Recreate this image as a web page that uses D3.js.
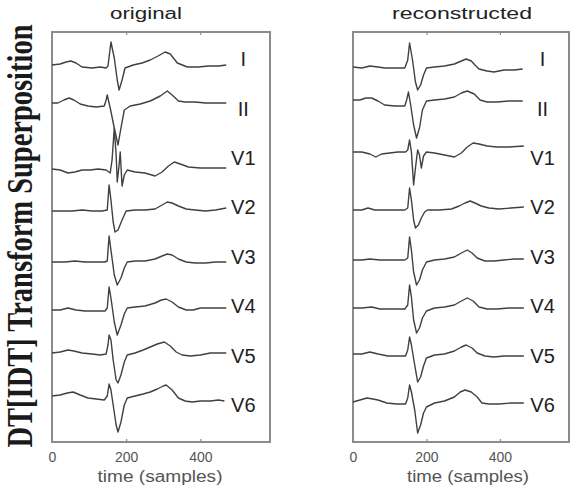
<!DOCTYPE html>
<html>
<head>
<meta charset="utf-8">
<script src="https://d3js.org/d3.v7.min.js"></script>
<style>
  body { margin: 0; background: #fff; }
  .sans { font-family: "Liberation Sans", Arial, sans-serif; }
  .serif { font-family: "Liberation Serif", "Times New Roman", serif; }
</style>
</head>
<body>
<div id="chart"></div>
<script>
// leads, top to bottom
const leads = ["I", "II", "V1", "V2", "V3", "V4", "V5", "V6"];
const xTicks = [0, 200, 400];

// baseline offset of every lead (mV from the top of the axes)
const origOffsets  = [0.85, 1.825, 3.45, 4.475, 5.75, 6.95, 8.025, 9.1];
const reconOffsets = [0.9, 1.775, 3.025, 4.45, 5.7, 6.9, 8.075, 9.25];

// [sample, mV] - original
const origI = [[0,0.025],[22,0.05],[38,0.1],[51,0.125],[65,0.075],[81,-0.025],[108,-0.05],[130,-0.025],[146,-0.05],[151,0],[159,0.6],[168,0.2],[176,-0.35],[181,-0.6],[189,-0.35],[197,-0.05],[219,0.025],[243,0.075],[265,0.15],[286,0.25],[305,0.35],[319,0.3],[338,0.075],[365,-0.025],[395,-0.025],[422,0],[449,0],[470,0.025]];
const origII = [[0,0.05],[16,0.05],[32,0.125],[46,0.175],[59,0.125],[76,0.025],[97,-0.025],[119,-0.05],[141,-0.025],[146,0.125],[149,0.25],[157,-0.075],[168,-0.575],[178,-1.0],[186,-0.575],[195,-0.125],[211,-0.025],[238,0.025],[265,0.1],[292,0.225],[311,0.35],[324,0.25],[341,0.1],[359,0.075],[386,0.075],[414,0.05],[441,0.05],[470,0.05]];
const origV1 = [[0,0.025],[22,0],[43,-0.075],[62,-0.05],[81,0],[103,0],[124,0.025],[146,0],[157,-0.075],[162,0.25],[168,1.05],[173,0.375],[176,-0.3],[181,0.125],[184,0.45],[189,-0.4],[195,-0.125],[203,0],[224,-0.05],[251,-0.075],[278,-0.15],[297,-0.05],[314,0.1],[330,0.2],[346,0.15],[368,0.075],[400,0.05],[432,0.05],[470,0.05]];
const origV2 = [[0,0],[27,0],[54,0],[81,0.025],[108,0],[135,0],[149,0.025],[154,0.65],[159,0.275],[165,-0.275],[170,-0.525],[178,-0.475],[189,-0.225],[200,0],[224,0.025],[251,0.025],[278,0.05],[297,0.15],[311,0.225],[324,0.2],[341,0.125],[362,0.05],[386,0.025],[414,0],[441,0.025],[470,0.075]];
const origV3 = [[0,0],[35,0],[62,0.025],[89,0],[116,0],[143,0],[149,0.025],[154,0.65],[159,0.3],[168,-0.325],[176,-0.575],[186,-0.4],[195,-0.15],[203,0],[224,0.025],[251,0.025],[278,0.075],[297,0.15],[311,0.2],[324,0.175],[341,0.075],[362,0],[386,-0.025],[414,-0.025],[441,0],[470,0]];
const origV4 = [[0,0],[22,0],[43,0.05],[65,0],[89,-0.025],[116,-0.025],[143,-0.025],[149,0.05],[154,0.575],[159,0.3],[168,-0.3],[176,-0.625],[186,-0.375],[195,-0.1],[203,0.05],[224,0.075],[251,0.1],[278,0.175],[295,0.25],[308,0.275],[324,0.2],[341,0.075],[362,0],[381,0],[400,0.05],[432,0.05],[470,0.05]];
const origV5 = [[0,0],[22,0.025],[43,0.075],[59,0.05],[81,0],[108,-0.025],[130,-0.05],[146,-0.025],[151,0.2],[154,0.45],[159,0.325],[165,-0.175],[173,-0.675],[178,-0.75],[186,-0.55],[195,-0.225],[203,-0.05],[224,0],[246,0.075],[265,0.15],[284,0.225],[303,0.275],[319,0.175],[335,0.025],[351,-0.05],[373,-0.075],[400,-0.05],[427,0],[470,0]];
const origV6 = [[0,0],[22,0.025],[41,0.075],[57,0.1],[76,0.025],[97,-0.05],[119,-0.075],[141,-0.1],[149,0],[154,0.3],[159,0.15],[165,-0.225],[173,-0.725],[178,-0.9],[186,-0.65],[195,-0.225],[203,-0.05],[224,0],[246,0.05],[265,0.1],[284,0.175],[300,0.25],[308,0.275],[324,0.15],[341,-0.05],[359,-0.125],[378,-0.15],[400,-0.125],[427,-0.125],[449,-0.1],[465,-0.125]];

// [sample, mV] - reconstructed
const reconI = [[0,0.025],[24,0],[46,0.05],[68,0.025],[86,0],[114,0],[141,0],[149,0.2],[154,0.625],[162,0.2],[170,-0.35],[176,-0.55],[184,-0.425],[192,-0.175],[200,0],[222,0.025],[249,0.05],[276,0.1],[295,0.175],[308,0.225],[322,0.175],[332,0.075],[343,-0.025],[365,-0.075],[384,-0.1],[411,-0.05],[438,-0.05],[462,-0.025]];
const reconII = [[0,0.075],[19,0.075],[35,0.125],[51,0.125],[68,0.05],[86,-0.05],[114,-0.075],[141,-0.075],[146,0.075],[151,0.275],[157,-0.05],[165,-0.55],[173,-0.875],[181,-0.625],[189,-0.175],[200,0.05],[222,0.075],[249,0.1],[276,0.15],[295,0.25],[311,0.3],[330,0.225],[346,0.075],[365,0.025],[392,0.025],[424,0.05],[462,0.05]];
const reconV1 = [[0,0.025],[24,0.025],[46,-0.025],[62,-0.1],[78,-0.025],[100,0],[122,0.025],[143,0.025],[149,0.075],[154,0.325],[159,0.025],[165,-0.8],[170,-0.375],[176,0.075],[181,-0.05],[186,-0.375],[192,-0.075],[200,0.025],[222,0],[249,-0.05],[276,-0.1],[295,0],[311,0.15],[327,0.25],[343,0.225],[365,0.175],[392,0.15],[424,0.15],[465,0.175]];
const reconV2 = [[0,0],[24,0],[41,0.05],[59,0],[86,0],[114,0],[141,0],[149,0.05],[154,0.55],[159,0.25],[165,-0.25],[170,-0.45],[178,-0.375],[186,-0.2],[195,-0.05],[203,0],[235,0],[268,0.025],[289,0.1],[305,0.175],[319,0.225],[332,0.175],[349,0.1],[370,0.05],[397,0.025],[430,0.05],[465,0.075]];
const reconV3 = [[0,0],[24,0],[46,0.025],[73,0],[105,0],[141,0],[149,0.05],[154,0.575],[159,0.25],[165,-0.3],[173,-0.625],[181,-0.5],[189,-0.25],[200,-0.05],[222,0],[249,0.025],[276,0.075],[295,0.175],[311,0.25],[324,0.175],[338,0.05],[359,-0.025],[384,-0.025],[411,0],[438,0.025],[465,0.025]];
const reconV4 = [[0,0],[24,0],[51,0.025],[73,-0.025],[105,-0.025],[141,-0.025],[149,0.075],[154,0.575],[159,0.275],[165,-0.3],[173,-0.625],[181,-0.5],[189,-0.25],[200,-0.075],[222,0],[249,0.025],[276,0.075],[295,0.175],[311,0.25],[327,0.175],[343,0.025],[365,-0.025],[392,-0.025],[424,0],[465,0]];
const reconV5 = [[0,0.025],[24,0.025],[46,0.075],[68,0.025],[95,-0.025],[122,-0.025],[143,-0.025],[149,0.125],[154,0.45],[159,0.25],[168,-0.25],[176,-0.675],[184,-0.55],[192,-0.275],[200,-0.075],[222,0],[249,0.025],[276,0.1],[295,0.2],[308,0.25],[324,0.175],[338,0.05],[359,-0.025],[384,-0.05],[411,-0.025],[438,-0.025],[465,-0.025]];
const reconV6 = [[0,0],[19,0.05],[38,0.1],[54,0.075],[68,0.05],[92,-0.025],[119,-0.05],[143,-0.05],[149,0.1],[154,0.425],[159,0.25],[168,-0.2],[176,-0.775],[184,-0.575],[192,-0.275],[200,-0.125],[222,-0.025],[249,0.025],[276,0.125],[292,0.25],[305,0.3],[322,0.25],[338,0.125],[351,-0.025],[370,-0.05],[397,-0.05],[430,-0.025],[465,-0.025]];

const origLeads  = [origI, origII, origV1, origV2, origV3, origV4, origV5, origV6];
const reconLeads = [reconI, reconII, reconV1, reconV2, reconV3, reconV4, reconV5, reconV6];

const width = 571, height = 487;
const svg = d3.select("#chart").append("svg")
    .attr("width", width)
    .attr("height", height);

const yTop = 32, yBottom = 442;
// mV from the top of the axes down to the bottom
const y = d3.scaleLinear().domain([0, 10.25]).range([yTop, yBottom]);
const labelY = d3.scalePoint().domain(leads).range([59, 405]);

const panels = [
    { title: "original", left: 52, right: 270, offsets: origOffsets, data: origLeads, titleX: 146, titleW: 72, xlabW: 125, xlabX: 160 },
    { title: "reconstructed", left: 353, right: 569, offsets: reconOffsets, data: reconLeads, titleX: 462, titleW: 140, xlabW: 122, xlabX: 468 }
];

panels.forEach(p => {
    const x = d3.scaleLinear().domain([0, 588]).range([p.left, p.right]);
    const g = svg.append("g");

    // frame
    g.append("rect")
        .attr("x", p.left).attr("y", yTop)
        .attr("width", p.right - p.left).attr("height", yBottom - yTop)
        .attr("fill", "none").attr("stroke", "#8c8c8c").attr("stroke-width", 2);

    // ticks, pointing in, top and bottom
    const bAxis = d3.axisBottom(x).tickValues(xTicks).tickSize(-3).tickPadding(10);
    const ga = g.append("g").attr("transform", `translate(0,${yBottom})`).call(bAxis);
    ga.attr("font-family", null).attr("font-size", null);
    ga.select(".domain").remove();
    ga.selectAll(".tick line").attr("stroke", "#8c8c8c").attr("stroke-width", 1.2);
    ga.selectAll(".tick text")
        .attr("class", "sans")
        .attr("fill", "#555").attr("font-size", 14);
    const tAxis = d3.axisTop(x).tickValues(xTicks.slice(1)).tickSize(-3).tickFormat("");
    const gt = g.append("g").attr("transform", `translate(0,${yTop})`).call(tAxis);
    gt.select(".domain").remove();
    gt.selectAll(".tick line").attr("stroke", "#8c8c8c").attr("stroke-width", 1.2);

    // traces
    p.data.forEach((pts, i) => {
        const line = d3.line()
            .x(d => x(d[0]))
            .y(d => y(p.offsets[i] - d[1]));
        g.append("path")
            .datum(pts)
            .attr("d", line)
            .attr("fill", "none")
            .attr("stroke", "#404040")
            .attr("stroke-width", 1.4)
            .attr("stroke-linejoin", "round");
    });

    // lead names
    g.selectAll(".lead").data(leads).join("text")
        .attr("class", "lead sans")
        .attr("x", x(516))
        .attr("y", d => labelY(d))
        .attr("dy", "0.36em")
        .attr("text-anchor", "middle")
        .attr("font-size", 20)
        .attr("fill", "#222")
        .text(d => d);

    // title
    g.append("text")
        .attr("class", "sans")
        .attr("x", p.titleX)
        .attr("y", 19)
        .attr("text-anchor", "middle")
        .attr("font-size", 16)
        .attr("textLength", p.titleW)
        .attr("lengthAdjust", "spacingAndGlyphs")
        .attr("fill", "#222")
        .text(p.title);

    // x label
    g.append("text")
        .attr("class", "sans")
        .attr("x", p.xlabX)
        .attr("y", 482)
        .attr("text-anchor", "middle")
        .attr("font-size", 16)
        .attr("textLength", p.xlabW)
        .attr("lengthAdjust", "spacingAndGlyphs")
        .attr("fill", "#555")
        .text("time (samples)");
});

// y label
svg.append("text")
    .attr("class", "serif")
    .attr("transform", "translate(32,236) scale(1.3,1) rotate(-90)")
    .attr("text-anchor", "middle")
    .attr("font-weight", "bold")
    .attr("font-size", 28)
    .attr("textLength", 423)
    .attr("lengthAdjust", "spacingAndGlyphs")
    .attr("fill", "#1a1a1a")
    .text("DT[IDT] Transform Superposition");
</script>
</body>
</html>
